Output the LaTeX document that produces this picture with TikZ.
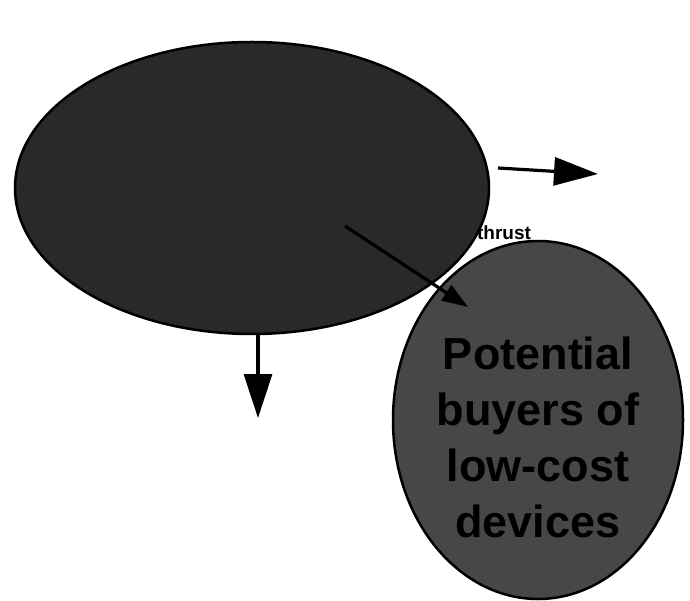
\documentclass[tikz,border=0pt]{standalone}
\usepackage{fontspec}
\setmainfont{Liberation Sans}
\usetikzlibrary{arrows.meta,shapes.geometric}
\begin{document}
\begin{tikzpicture}[x=1pt,y=-1pt,
  bigblob/.style={ellipse, draw=black, line width=2.5pt, fill=black!84, minimum width=474pt, minimum height=292pt, inner sep=0pt},
  smallblob/.style={ellipse, draw=black, line width=2.5pt, fill=black!72, minimum width=290pt, minimum height=358pt, inner sep=0pt},
  flowarrow/.style={line width=3.2pt, -{Triangle[length=44pt,width=28pt]}},
  blobtext/.style={font=\fontsize{45}{56}\selectfont\bfseries, text=black, align=center}
]
\useasboundingbox (0,0) rectangle (690,601);
\node[bigblob] (big) at (252,188) {};
\node[smallblob] (small) at (538,420) {};
\node[blobtext] (smalltext) at (538,437) {Potential\\buyers of\\low-cost\\devices};
\node[font=\fontsize{19}{21}\selectfont\bfseries, inner sep=0pt] (thrust) at (504,233) {thrust};
\coordinate (rstart) at (498,168);
\coordinate (rend) at (598,174);
\coordinate (dstart) at (258,333);
\coordinate (dend) at (258,418);
\coordinate (xstart) at (345,226);
\coordinate (xend) at (468,307);
\draw[flowarrow] (rstart) -- (rend);
\draw[flowarrow] (dstart) -- (dend);
\draw[line width=3.2pt, -{Triangle[length=26pt,width=18pt]}] (xstart) -- (xend);
\end{tikzpicture}
\end{document}
